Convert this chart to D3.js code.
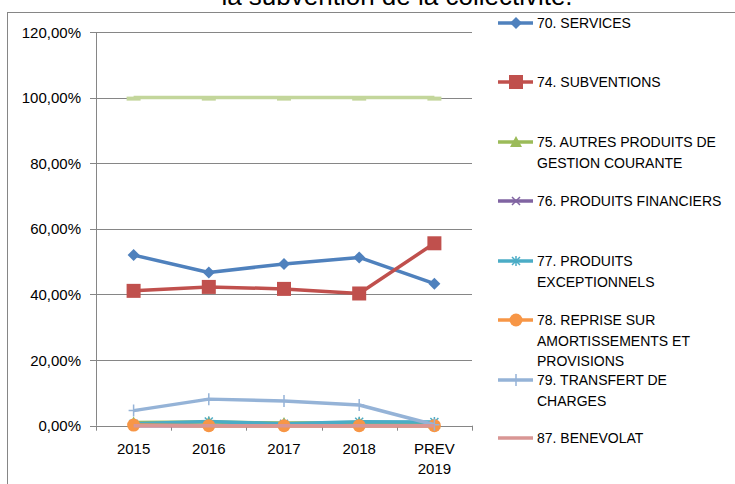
<!DOCTYPE html>
<html>
<head>
<meta charset="utf-8">
<script src="https://cdn.jsdelivr.net/npm/d3@7"></script>
<style>
  body { margin: 0; background: #fff; }
  svg { display: block; font-family: "Liberation Sans", Arial, sans-serif; }
</style>
</head>
<body>
<svg id="chart" width="735" height="484"></svg>
<script>
const categories = ["2015", "2016", "2017", "2018", "PREV 2019"]
const yTicks = [0, 20, 40, 60, 80, 100, 120]

const services     = [52.0, 46.7, 49.3, 51.3, 43.3]
const subventions  = [41.1, 42.3, 41.7, 40.3, 55.6]
const autres       = [1.0, 1.1, 0.8, 0.9, 0.5]
const financiers   = [0, 0, 0, 0, 0]
const exception    = [0.6, 1.3, 0.6, 1.2, 1.1]
const reprise      = [0.2, 0, 0, 0, 0]
const transfert    = [4.6, 8.1, 7.5, 6.3, 0.3]
const benevolat    = [0, 0, 0, 0, 0]
const total        = [100, 100, 100, 100, 100]

const seriesValues = [services, subventions, autres, financiers, exception, reprise, transfert, benevolat, total]
const colors  = ["#4F81BD", "#C0504D", "#9BBB59", "#8064A2", "#4BACC6", "#F79646", "#95B3D7", "#D99694", "#C3D69B"]
const markers = ["diamond", "square", "triangle", "x", "star", "circle", "plus", "none", "dash"]
// legend labels, wrapped like the reference (the TOTAL series has no entry)
const legendLines = [
  ["70. SERVICES"],
  ["74. SUBVENTIONS"],
  ["75. AUTRES PRODUITS DE", "GESTION COURANTE"],
  ["76. PRODUITS FINANCIERS"],
  ["77. PRODUITS", "EXCEPTIONNELS"],
  ["78. REPRISE SUR", "AMORTISSEMENTS ET", "PROVISIONS"],
  ["79. TRANSFERT DE", "CHARGES"],
  ["87. BENEVOLAT"]
]

const svg = d3.select("#chart")
const plot = { left: 96, right: 472, top: 32, bottom: 425.7 }

const x = d3.scaleBand().domain(categories).range([plot.left, plot.right])
const y = d3.scaleLinear().domain([0, 120]).range([plot.bottom, plot.top])

// chart frame + title (cut off at top)
svg.append("rect")
  .attr("x", 7.5).attr("y", 12.5).attr("width", 760).attr("height", 500)
  .attr("fill", "none").attr("stroke", "#868686").attr("stroke-width", 1)

svg.append("text")
  .attr("x", 397).attr("y", 5)
  .attr("text-anchor", "middle")
  .attr("font-size", 26)
  .attr("fill", "#000")
  .text("la subvention de la collectivité.")

// gridlines
svg.append("g").selectAll("line").data(yTicks).join("line")
  .attr("x1", plot.left - 6).attr("x2", plot.right)
  .attr("y1", d => Math.round(y(d)) + 0.5).attr("y2", d => Math.round(y(d)) + 0.5)
  .attr("stroke", "#868686").attr("stroke-width", 1)

// y axis labels
svg.append("g").selectAll("text").data(yTicks).join("text")
  .attr("x", plot.left - 15).attr("y", d => y(d) + 5.5)
  .attr("text-anchor", "end").attr("font-size", 15).attr("fill", "#000")
  .text(d => d3.format(".2f")(d).replace(".", ",") + "%")

// y axis line
svg.append("line")
  .attr("x1", plot.left + 0.5).attr("x2", plot.left + 0.5)
  .attr("y1", plot.top).attr("y2", plot.bottom)
  .attr("stroke", "#868686")

// x tick marks at band boundaries
const bounds = categories.map(c => x(c)).concat([plot.right])
svg.append("g").selectAll("line").data(bounds).join("line")
  .attr("x1", d => Math.round(d) + 0.5).attr("x2", d => Math.round(d) + 0.5)
  .attr("y1", plot.bottom).attr("y2", plot.bottom + 5)
  .attr("stroke", "#868686")

// x labels
svg.append("g").selectAll("text").data(categories).join("text")
  .attr("x", d => x(d) + x.bandwidth() / 2)
  .attr("y", plot.bottom + 28)
  .attr("text-anchor", "middle").attr("font-size", 15).attr("fill", "#000")
  .selectAll("tspan").data(d => d.split(" ")).join("tspan")
  .attr("x", function () { return d3.select(this.parentNode).attr("x") })
  .attr("dy", (d, i) => i === 0 ? 0 : 20)
  .text(d => d)

function drawMarker(g, type, color, cx, cy) {
  const s = g.append("g").attr("transform", `translate(${cx},${cy})`)
  if (type === "diamond") {
    s.append("path").attr("d", "M0,-6L6,0L0,6L-6,0Z").attr("fill", color)
  } else if (type === "square") {
    s.append("rect").attr("x", -7).attr("y", -7).attr("width", 14).attr("height", 14).attr("fill", color)
  } else if (type === "triangle") {
    s.append("path").attr("d", "M0,-6L6,5L-6,5Z").attr("fill", color)
  } else if (type === "x") {
    s.append("path").attr("d", "M-4,-4L4,4M-4,4L4,-4").attr("stroke", color).attr("stroke-width", 1.5)
  } else if (type === "star") {
    s.append("path").attr("d", "M-4,-4L4,4M-4,4L4,-4M0,-5L0,5").attr("stroke", color).attr("stroke-width", 1.5)
  } else if (type === "circle") {
    s.append("circle").attr("r", 6.5).attr("fill", color)
  } else if (type === "plus") {
    s.append("path").attr("d", "M0,-6L0,6M-5,0L5,0").attr("stroke", color).attr("stroke-width", 1.5)
  } else if (type === "dash") {
    s.append("rect").attr("x", -7).attr("y", -1).attr("width", 14).attr("height", 4).attr("fill", color)
  }
}

const line = d3.line()
  .x((d, i) => x(categories[i]) + x.bandwidth() / 2)
  .y(d => y(d))

const seriesG = svg.append("g")
seriesValues.forEach((vals, k) => {
  const g = seriesG.append("g")
  g.append("path").datum(vals)
    .attr("d", line)
    .attr("fill", "none")
    .attr("stroke", colors[k]).attr("stroke-width", 3.5)
    .attr("stroke-linejoin", "round")
  vals.forEach((v, i) => drawMarker(g, markers[k], colors[k], x(categories[i]) + x.bandwidth() / 2, y(v)))
})

// legend
const legendY = [23, 82, 142, 201, 261, 320, 380, 438]
const legend = svg.append("g")
legendLines.forEach((lines, k) => {
  const ly = legendY[k]
  const g = legend.append("g")
  g.append("line").attr("x1", 498).attr("x2", 533).attr("y1", ly).attr("y2", ly)
    .attr("stroke", colors[k]).attr("stroke-width", 3.5)
  drawMarker(g, markers[k], colors[k], 516, ly)
  g.append("text").attr("x", 537).attr("y", ly + 5)
    .attr("font-size", 14).attr("fill", "#000")
    .selectAll("tspan").data(lines).join("tspan")
    .attr("x", 537).attr("dy", (d, i) => i === 0 ? 0 : 20.5)
    .text(d => d)
})
</script>
</body>
</html>
